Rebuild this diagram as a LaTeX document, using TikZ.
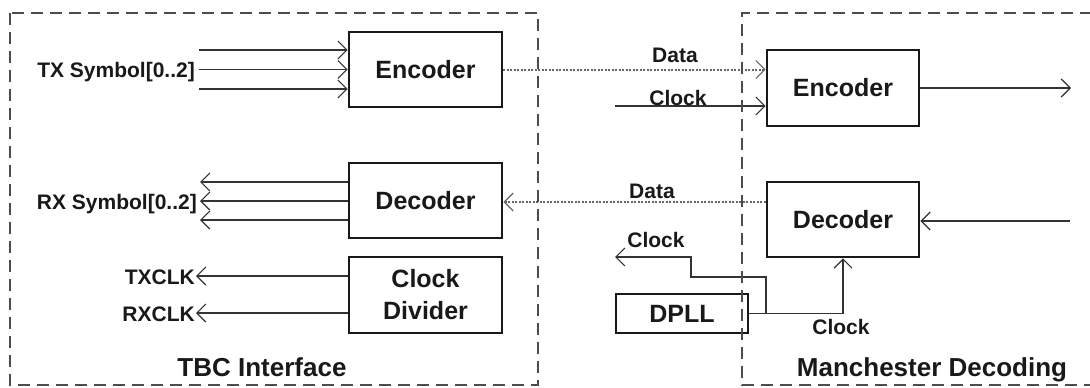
\documentclass[tikz,border=0pt]{standalone}
\usepackage{fontspec}
\setmainfont{Liberation Sans}
\usetikzlibrary{arrows.meta,calc}

\tikzset{
  blk/.style={draw=black!90, line width=2.6pt, fill=white, inner sep=0pt,
              minimum width=153pt, minimum height=75pt, text=black!90,
              font=\fontsize{25}{32}\selectfont\bfseries, align=center},
  lbl/.style={inner sep=0pt, anchor=base, text=black!90,
              font=\fontsize{21}{24}\selectfont\bfseries},
  title/.style={inner sep=0pt, anchor=base, text=black!90,
              font=\fontsize{26}{30}\selectfont\bfseries},
  barb/.tip={Straight Barb[length=9pt, width=18pt, line width=1.2pt]},
  wire/.style={draw=black!80, line width=1.7pt, -barb},
  dotwire/.style={wire, draw=black!60, line width=2pt, dash pattern=on 2pt off 1.5pt},
  region/.style={draw=black!70, line width=2pt, dash pattern=on 12pt off 7pt}
}

\begin{document}
\begin{tikzpicture}[x=1pt,y=-1pt]
\useasboundingbox (0,0) rectangle (1090,388);

% blocks
\node[blk] (enc1) at (425.5,69.5) {Encoder};
\node[blk] (dec1) at (425.5,200.5) {Decoder};
\node[blk, minimum height=76pt] (cdiv) at (425.5,295) {Clock\\Divider};
\node[blk, minimum width=152pt, minimum height=76pt] (enc2) at (843,88) {Encoder};
\node[blk, minimum width=152pt] (dec2) at (843,219.5) {Decoder};
\node[blk, minimum width=132pt, minimum height=39pt] (dpll) at (682,313.5) {DPLL};

% TBC side: symbol buses and clocks
\coordinate (tx1) at (199,50);
\coordinate (tx2) at (199,69.5);
\coordinate (tx3) at (199,89);
\draw[wire] (tx1) -- (tx1 -| enc1.west);
\draw[wire] (tx2) -- (tx2 -| enc1.west);
\draw[wire] (tx3) -- (tx3 -| enc1.west);
\node[lbl, anchor=base east] (txs) at (195,77) {TX Symbol[0..2]};

\coordinate (rx1) at (200,182);
\coordinate (rx2) at (200,201);
\coordinate (rx3) at (200,220);
\draw[wire] (rx1 -| dec1.west) -- (rx1);
\draw[wire] (rx2 -| dec1.west) -- (rx2);
\draw[wire] (rx3 -| dec1.west) -- (rx3);
\node[lbl, anchor=base east] (rxs) at (197,209) {RX Symbol[0..2]};

\coordinate (txc) at (196,276);
\coordinate (rxc) at (196,313);
\draw[wire] (txc -| cdiv.west) -- (txc);
\draw[wire] (rxc -| cdiv.west) -- (rxc);
\node[lbl, anchor=base east] (txcl) at (195,284) {TXCLK};
\node[lbl, anchor=base east] (rxcl) at (195,321) {RXCLK};

% links between the two sides
\draw[dotwire] (enc1.east) -- (enc1.east -| enc2.west);
\node[lbl] (dtop) at (675,62) {Data};
\coordinate (clkin) at (615,106);
\draw[wire] (clkin) -- (clkin -| enc2.west);
\node[lbl] (ctop) at (678,105) {Clock};

\coordinate (d2) at (600,202);
\draw[dotwire] (d2 -| dec2.west) -- (d2 -| dec1.east);
\node[lbl] (dbot) at (652,198) {Data};

% Manchester side: line in/out
\coordinate (mout) at (1071,88);
\draw[wire] (enc2.east) -- (mout);
\coordinate (min) at (1070,221);
\draw[wire] (min) -- (min -| dec2.east);

% recovered clock from the DPLL
\draw[wire] (dpll.east) -| (dec2.south);
\node[lbl] (cdec) at (841,334) {Clock};
\coordinate (clkout) at (615,257);
\draw[wire] (dpll.east) -- (766,313.5) |- (691,277) |- (clkout);
\node[lbl] (cout) at (656,247) {Clock};

% region titles
\node[title] (tbc) at (262,376) {TBC Interface};
\node[title] (man) at (932,376) {Manchester Decoding};

% dashed region outlines, drawn over everything
\draw[region] (10,13) rectangle (538,385);
\draw[region] (1092,13) -- (742,13) -- (742,385) -- (1092,385);
\end{tikzpicture}
\end{document}
